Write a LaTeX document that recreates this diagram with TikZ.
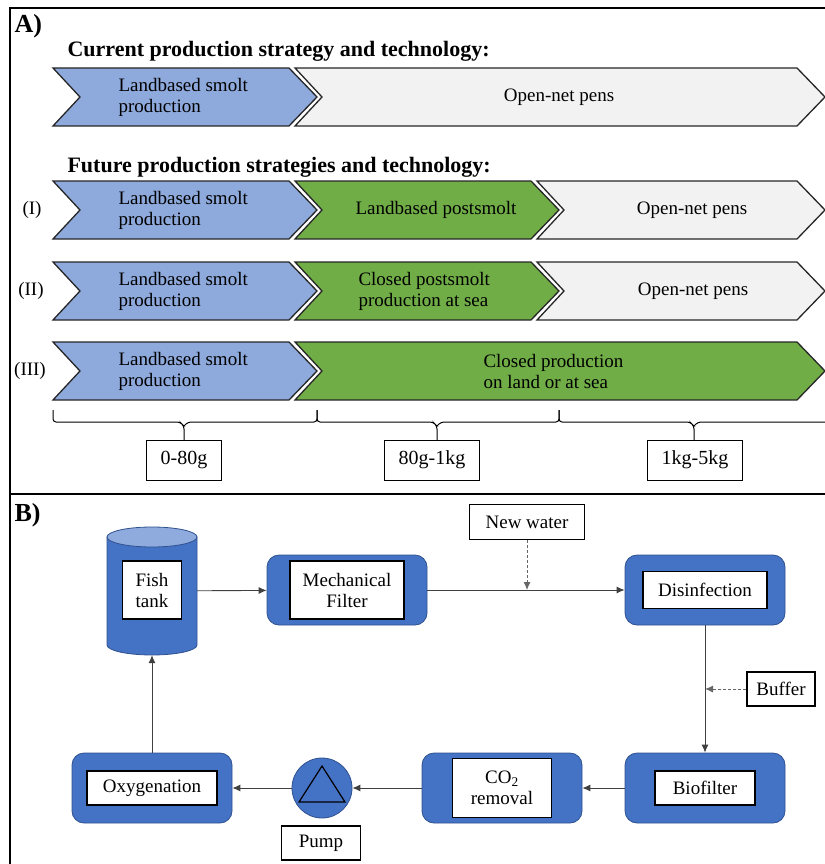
\documentclass[tikz,border=0pt]{standalone}
\usepackage{fontspec}
\setmainfont{Liberation Serif}
\usetikzlibrary{arrows.meta}
\tikzset{>={Latex[length=8pt,width=7pt]}}
\definecolor{smoltblue}{HTML}{8EA9DB}
\definecolor{postgreen}{HTML}{70AD47}
\definecolor{pengray}{HTML}{F2F2F2}
\definecolor{unitblue}{HTML}{4472C4}
\definecolor{unitedge}{HTML}{2F528F}
\definecolor{tanktop}{HTML}{8FAADC}
\newcommand{\stagefont}{\fontsize{19}{21}\selectfont}
\newcommand{\titlefont}{\fontsize{22}{24}\selectfont\bfseries}
\newcommand{\panelfont}{\fontsize{26}{28}\selectfont\bfseries}
\newcommand{\rangefont}{\fontsize{20}{22}\selectfont}
% chevron: left x, right x, mid y, colour
\newcommand{\stagearrow}[4]{%
  \draw[stage edge,fill=#4] (#1,#3-29) -- (#2-28,#3-29) -- (#2,#3)
    -- (#2-28,#3+29) -- (#1,#3+29) -- (#1+27,#3) -- cycle;}
% brace: left x, right x, tip x
\newcommand{\sizebrace}[3]{%
  \draw[brace line] (#1,410) -- (#1,422) -- (#3-4,422) -- (#3,426) -- (#3,440);
  \draw[brace line] (#3,426) -- (#3+4,422) -- (#2,422) -- (#2,410);}

\begin{document}
\begin{tikzpicture}[x=1pt,y=-1pt,
  stage edge/.style={draw=black!85,line width=1.3pt},
  brace line/.style={line width=1pt,rounded corners=3pt},
  unit/.style={draw=unitedge,fill=unitblue,rounded corners=12pt,line width=0.8pt,
    minimum width=160pt,minimum height=70pt},
  tag/.style={draw,fill=white,line width=1.4pt,align=center,font=\stagefont,inner sep=4pt},
  sizebox/.style={draw,fill=white,line width=1pt,font=\rangefont,minimum height=40pt,inner xsep=14pt},
  flow/.style={->,line width=0.9pt,draw=black!75},
  feed/.style={->,line width=0.9pt,draw=black!60,dash pattern=on 3pt off 2pt}]
  \useasboundingbox (0,0) rectangle (824,864);
  % frame
  \draw[line width=1.6pt] (10,870) -- (10,8) -- (830,8);
  \draw[line width=1.6pt] (10,494) -- (830,494);

  % panel A
  \node[anchor=base west,font=\panelfont] (A) at (11,33) {A)};
  \node[anchor=base west,font=\titlefont] (now) at (64,57) {Current production strategy and technology:};
  \node[anchor=base west,font=\titlefont] (future) at (64,172) {Future production strategies and technology:};

  \stagearrow{53}{317}{97}{smoltblue}
  \stagearrow{295}{825}{97}{pengray}
  \node[anchor=west,align=left,font=\stagefont] (smolt0) at (115,97) {Landbased smolt\\production};
  \node[font=\stagefont] (pens0) at (559,97) {Open-net pens};

  \stagearrow{53}{317}{210}{smoltblue}
  \stagearrow{295}{559}{210}{postgreen}
  \stagearrow{537}{825}{210}{pengray}
  \node[font=\stagefont] (rI) at (32,210) {(I)};
  \node[anchor=west,align=left,font=\stagefont] (smolt1) at (115,210) {Landbased smolt\\production};
  \node[font=\stagefont] (post1) at (436,210) {Landbased postsmolt};
  \node[font=\stagefont] (pens1) at (692,210) {Open-net pens};

  \stagearrow{53}{317}{291}{smoltblue}
  \stagearrow{295}{559}{291}{postgreen}
  \stagearrow{537}{825}{291}{pengray}
  \node[font=\stagefont] (rII) at (31,291) {(II)};
  \node[anchor=west,align=left,font=\stagefont] (smolt2) at (115,291) {Landbased smolt\\production};
  \node[anchor=west,align=left,font=\stagefont] (post2) at (355,291) {Closed postsmolt\\production at sea};
  \node[font=\stagefont] (pens2) at (693,291) {Open-net pens};

  \stagearrow{53}{317}{371}{smoltblue}
  \stagearrow{295}{825}{371}{postgreen}
  \node[font=\stagefont] (rIII) at (30,371) {(III)};
  \node[anchor=west,align=left,font=\stagefont] (smolt3) at (115,371) {Landbased smolt\\production};
  \node[anchor=west,align=left,font=\stagefont] (closed3) at (480,371) {Closed production\\on land or at sea};

  % size ranges
  \sizebrace{53}{317}{184}
  \sizebrace{317}{559}{437}
  \sizebrace{559}{830}{694}
  \node[sizebox] (g1) at (184,460) {0-80g};
  \node[sizebox] (g2) at (432,460) {80g-1kg};
  \node[sizebox] (g3) at (695,460) {1kg-5kg};

  % panel B
  \node[anchor=base west,font=\panelfont] (B) at (11,521) {B)};
  \draw[draw=unitedge,fill=unitblue,line width=0.8pt] (107,537) -- (107,645)
    arc[start angle=180,end angle=0,x radius=45,y radius=10] -- (197,537) -- cycle;
  \draw[draw=unitedge,fill=tanktop,line width=0.8pt] (152,537) ellipse[x radius=45,y radius=10];
  \node[minimum width=90pt,minimum height=128pt,inner sep=0pt] (tank) at (152,591) {};
  \node[tag,minimum width=59pt,minimum height=58pt] (tanktxt) at (152,590) {Fish\\tank};

  \node[unit] (mech) at (347,590) {};
  \node[tag,minimum width=114pt,minimum height=58pt] (mechtxt) at (mech) {Mechanical\\Filter};
  \node[unit] (dis) at (705,590) {};
  \node[tag,minimum width=124pt,minimum height=37pt] (distxt) at (dis) {Disinfection};
  \node[unit] (bio) at (705,788) {};
  \node[tag,minimum width=100pt,minimum height=34pt] (biotxt) at (bio) {Biofilter};
  \node[unit] (co2) at (502,788) {};
  \node[tag,minimum width=99pt,minimum height=59pt] (co2txt) at (co2) {CO\textsubscript{2}\\removal};
  \node[circle,draw=unitedge,fill=unitblue,line width=0.8pt,minimum size=60pt,inner sep=0pt] (pump) at (322,788) {};
  \draw[line width=1.2pt] (pump.center) ++(0,-22) -- ++(23,36) -- ++(-46,0) -- cycle;
  \node[tag,minimum width=79pt,minimum height=34pt] (pumptxt) at (321,843) {Pump};
  \node[unit] (oxy) at (152,788) {};
  \node[tag,minimum width=130pt,minimum height=34pt] (oxytxt) at (oxy) {Oxygenation};

  \node[tag,minimum width=115pt,minimum height=35pt] (water) at (527,522) {New water};
  \node[tag,minimum width=68pt,minimum height=34pt] (buffer) at (781,689) {Buffer};
  \coordinate (join) at (527,590);
  \coordinate (dose) at (705,689);

  % water loop
  \draw[flow] (tank) -- (mech);
  \draw[flow] (mech) -- (dis);
  \draw[feed] (water) -- (join);
  \draw[flow] (dis) -- (bio);
  \draw[feed] (buffer) -- (dose);
  \draw[flow] (bio) -- (co2);
  \draw[flow] (co2) -- (pump);
  \draw[flow] (pump) -- (oxy);
  \draw[flow] (oxy) -- (tank);
\end{tikzpicture}
\end{document}
